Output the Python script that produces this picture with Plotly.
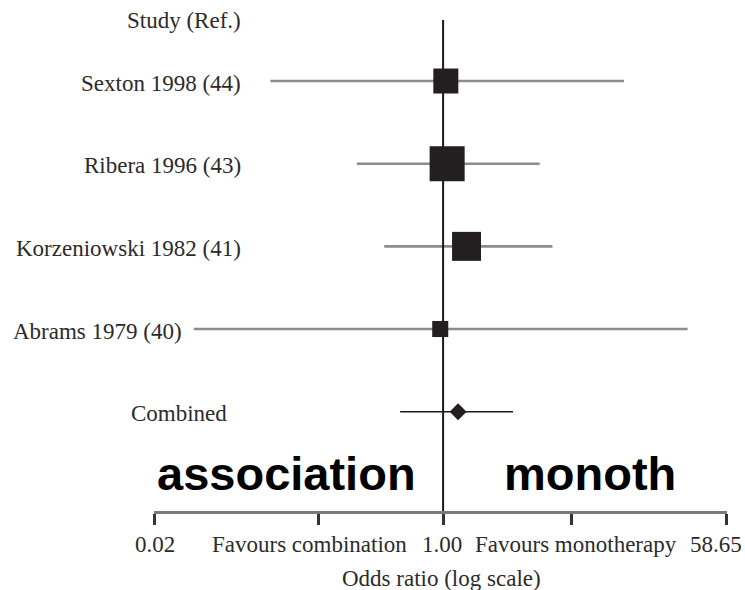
import numpy as np
import plotly.graph_objects as go

# ---------------- data ----------------
studies = ["Sexton 1998 (44)", "Ribera 1996 (43)", "Korzeniowski 1982 (41)", "Abrams 1979 (40)"]
odds_ratio = [1.04, 1.06, 1.40, 0.96]
ci_low = [0.084, 0.29, 0.43, 0.028]
ci_high = [13.4, 4.0, 4.8, 33.4]
weights = [21.2, 41.6, 28.5, 8.7]          # relative study weights (%)

combined_label = "Combined"
combined_or = 1.24
combined_low = 0.54
combined_high = 2.73

tick_values = [10 ** -1.8, 0.167, 1.0, 6.31, 58.65]
tick_labels = ["0.02", "Favours combination", "1.00", "Favours monotherapy", "58.65"]
axis_title = "Odds ratio (log scale)"
header = "Study (Ref.)"
overlay_left = "association"
overlay_right = "monoth"

# ---------------- layout constants ----------------
W, H = 745, 590
ML, MR, MT, MB = 154, 18, 20, 79
study_y = [5, 4, 3, 2]
combined_y = 1
y_range = [-0.201, 5.738]
x_range = [-1.801, np.log10(58.65) + 0.0005]

serif = "Liberation Serif, Times New Roman, serif"
txt_col = "#2b2b2b"
ci_col = "#8c8c8c"
box_col = "#231f20"

fig = go.Figure()

# CI lines for studies
for name, lo, hi, y in zip(studies, ci_low, ci_high, study_y):
    fig.add_trace(go.Scatter(x=[lo, hi], y=[y, y], mode="lines",
                             line=dict(color=ci_col, width=2.6),
                             hoverinfo="skip", showlegend=False))

# combined CI
fig.add_trace(go.Scatter(x=[combined_low, combined_high], y=[combined_y, combined_y],
                         mode="lines", line=dict(color="#1a1a1a", width=1.5),
                         hoverinfo="skip", showlegend=False))

# reference line at OR = 1
fig.add_trace(go.Scatter(x=[1, 1], y=y_range, mode="lines",
                         line=dict(color="#1a1a1a", width=2),
                         hoverinfo="skip", showlegend=False, cliponaxis=False))

# study boxes
sizes = [5.43 * np.sqrt(w) for w in weights]
fig.add_trace(go.Scatter(x=odds_ratio, y=study_y, mode="markers",
                         marker=dict(symbol="square", size=sizes, color=box_col,
                                     opacity=1, line=dict(width=0)),
                         text=studies, showlegend=False))

# combined diamond
fig.add_trace(go.Scatter(x=[combined_or], y=[combined_y], mode="markers",
                         marker=dict(symbol="diamond", size=13, color=box_col,
                                     opacity=1, line=dict(width=0)),
                         showlegend=False))

annotations = []


def px_to_paper(px):
    return (px - ML) / (W - ML - MR)


# study labels (right edges measured)
label_right = [243, 243, 243, 184]
for name, y, r in zip(studies, study_y, label_right):
    annotations.append(dict(x=px_to_paper(r), xref="paper", y=y, yref="y",
                            text=name, showarrow=False, xanchor="right", yanchor="middle",
                            font=dict(family=serif, size=23, color=txt_col), yshift=-2))
annotations.append(dict(x=px_to_paper(179), xref="paper", y=combined_y, yref="y",
                        text=combined_label, showarrow=False, xanchor="center", yanchor="middle",
                        font=dict(family=serif, size=23, color=txt_col), yshift=-2))
annotations.append(dict(x=px_to_paper(243), xref="paper", y=1, yref="paper",
                        text=header, showarrow=False, xanchor="right", yanchor="middle",
                        font=dict(family=serif, size=23, color=txt_col), yshift=0))

# tick labels
tick_shift = [1, -9, -1, 4.5, -11]
for v, lab, sh in zip(tick_values, tick_labels, tick_shift):
    annotations.append(dict(x=np.log10(v), xref="x", y=0, yref="paper",
                            text=lab, showarrow=False, xanchor="center", yanchor="middle",
                            xshift=sh, yshift=-33,
                            font=dict(family=serif, size=23, color=txt_col)))

# axis title
annotations.append(dict(x=px_to_paper(441), xref="paper", y=0, yref="paper",
                        text=axis_title, showarrow=False, xanchor="center", yanchor="middle",
                        yshift=-67, font=dict(family=serif, size=23, color=txt_col)))

# overlay bold words
annotations.append(dict(x=px_to_paper(155), xref="paper", y=0, yref="paper",
                        text=overlay_left, showarrow=False, xanchor="left", yanchor="middle",
                        yshift=38, font=dict(family="Liberation Sans, Arial, sans-serif",
                                             size=47, color="#000000", weight="bold")))
annotations.append(dict(x=px_to_paper(502), xref="paper", y=0, yref="paper",
                        text=overlay_right, showarrow=False, xanchor="left", yanchor="middle",
                        yshift=38, font=dict(family="Liberation Sans, Arial, sans-serif",
                                             size=47, color="#000000", weight="bold")))

fig.update_layout(
    width=W, height=H,
    margin=dict(l=ML, r=MR, t=MT, b=MB, pad=0),
    paper_bgcolor="white", plot_bgcolor="white",
    showlegend=False,
    annotations=annotations,
    xaxis=dict(type="log", range=x_range, showgrid=False, zeroline=False,
               showline=True, linecolor="#7a7a7a", linewidth=2.5,
               ticks="outside", ticklen=11, tickwidth=2.5, tickcolor="#333333",
               tickvals=tick_values, showticklabels=False, fixedrange=True),
    yaxis=dict(range=y_range, visible=False, fixedrange=True),
)

fig.write_html("out.html")
